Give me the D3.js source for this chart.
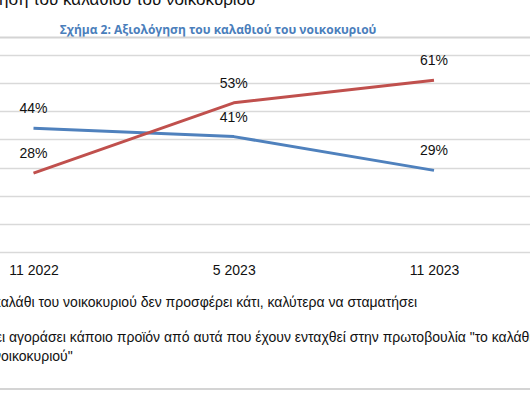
<!DOCTYPE html>
<html>
<head>
<meta charset="utf-8">
<script src="https://cdn.jsdelivr.net/npm/d3@7"></script>
<style>
  body { margin: 0; background: #fff; }
  svg { display: block; }
</style>
</head>
<body>
<svg id="canvas" width="530" height="397"></svg>
<script>
// Chart data
const periods = ["11 2022", "5 2023", "11 2023"];
const seriesNames = [
  "Το καλάθι του νοικοκυριού δεν προσφέρει κάτι, καλύτερα να σταματήσει",
  "Έχει αγοράσει κάποιο προϊόν από αυτά που έχουν ενταχθεί στην πρωτοβουλία \"το καλάθι του νοικοκυριού\""
];
const stopValues = [44, 41, 29];
const boughtValues = [28, 53, 61];
const yTicks = [0, 10, 20, 30, 40, 50, 60, 70];
const colors = ["#4f81bd", "#c0504d"];

const width = 530, height = 397;
const svg = d3.select("#canvas");
const font = "'Liberation Sans', Arial, sans-serif";

const x = d3.scalePoint().domain(periods).range([33.5, 434]);
const y = d3.scaleLinear().domain([0, 70]).range([252, 55]);

// heading cut at the top of the page
const head = svg.append("text")
  .attr("y", 5)
  .attr("font-family", font)
  .attr("font-size", 17)
  .attr("fill", "#111")
  .text("Αξιολόγηση του καλαθιού του νοικοκυριού");
// shift so that "ηση" starts near the left edge
head.attr("x", -head.node().getSubStringLength(0, 7) - 1);

// figure caption
svg.append("text")
  .attr("x", 218)
  .attr("y", 34)
  .attr("text-anchor", "middle")
  .attr("font-family", "'Open Sans', sans-serif")
  .attr("font-weight", "bold")
  .attr("font-size", 12)
  .attr("fill", "#4a7ebb")
  .text("Σχήμα 2: Αξιολόγηση του καλαθιού του νοικοκυριού");

// frame lines
svg.append("line").attr("x1", 0).attr("x2", width).attr("y1", 37.5).attr("y2", 37.5)
  .attr("stroke", "#d4d4d4").attr("stroke-width", 2);
svg.append("line").attr("x1", 0).attr("x2", width).attr("y1", 389).attr("y2", 389)
  .attr("stroke", "#d4d4d4").attr("stroke-width", 2);

// gridlines
svg.append("g")
  .selectAll("line")
  .data(yTicks)
  .join("line")
  .attr("x1", 0)
  .attr("x2", width)
  .attr("y1", d => Math.round(y(d)) + 0.5)
  .attr("y2", d => Math.round(y(d)) + 0.5)
  .attr("stroke", "#d9d9d9")
  .attr("stroke-width", 1.5);

// x axis labels
const xAxis = d3.axisBottom(x).tickSize(0).tickPadding(0);
const gx = svg.append("g").attr("transform", "translate(0,265)").call(xAxis);
gx.select(".domain").remove();
gx.selectAll("text")
  .attr("font-family", font)
  .attr("font-size", 14)
  .attr("fill", "#111");

// lines and labels
const series = [stopValues, boughtValues];
const line = d3.line().x((d, i) => x(periods[i])).y(d => y(d));

series.forEach((vals, s) => {
  svg.append("path")
    .datum(vals)
    .attr("d", line)
    .attr("fill", "none")
    .attr("stroke", colors[s])
    .attr("stroke-width", 3)
    .attr("stroke-linejoin", "round");

  svg.append("g")
    .selectAll("text")
    .data(vals)
    .join("text")
    .attr("x", (d, i) => x(periods[i]))
    .attr("y", d => y(d) - 15)
    .attr("text-anchor", "middle")
    .attr("font-family", font)
    .attr("font-size", 14)
    .attr("fill", "#111")
    .text(d => d + "%");
});

// legend (cut at the left edge)
const leg1 = svg.append("text")
  .attr("x", 417)
  .attr("y", 307)
  .attr("text-anchor", "end")
  .attr("font-family", font)
  .attr("font-size", 14)
  .attr("fill", "#111")
  .text(seriesNames[0]);

const wrapAt = seriesNames[1].indexOf("νοικοκυριού\"");
const leg2 = svg.append("text")
  .attr("y", 342)
  .attr("font-family", font)
  .attr("font-size", 14)
  .attr("fill", "#111")
  .text(seriesNames[1].slice(0, wrapAt - 1));
leg2.attr("x", 9 - leg2.node().getSubStringLength(0, 5));

const leg3 = svg.append("text")
  .attr("y", 361)
  .attr("font-family", font)
  .attr("font-size", 14)
  .attr("fill", "#111")
  .text(seriesNames[1].slice(wrapAt));
leg3.attr("x", 1 - leg3.node().getSubStringLength(0, 1));
</script>
</body>
</html>
